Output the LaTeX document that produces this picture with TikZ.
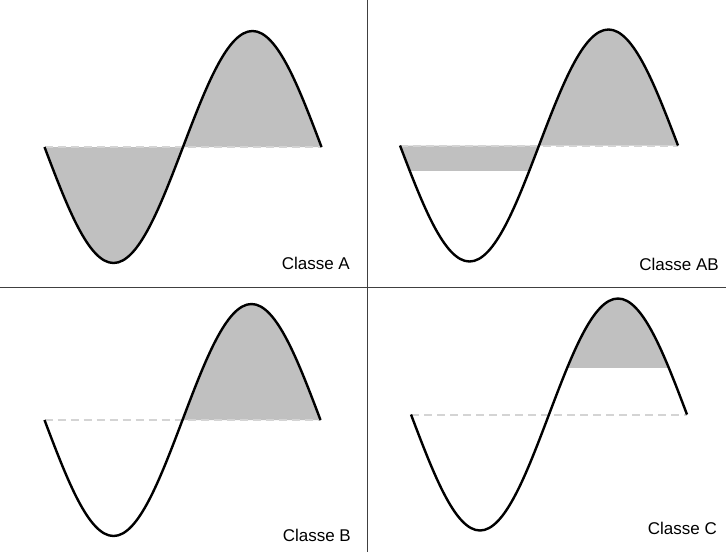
\documentclass[tikz,border=0pt]{standalone}
\usepackage{fontspec}
\setmainfont{Liberation Sans}
\definecolor{fillgray}{RGB}{192,192,192}
\definecolor{dashgray}{RGB}{212,212,212}
\definecolor{divgray}{RGB}{64,64,64}
\begin{document}
\begin{tikzpicture}[x=1pt,y=-1pt,
  wave/.style={line width=2.4pt,black,line join=round},
  shade/.style={fill=fillgray,draw=none},
  baseln/.style={dashgray,line width=2pt,dash pattern=on 8pt off 5pt},
  divider/.style={divgray,line width=1pt},
  lbl/.style={anchor=base east,inner sep=0pt,font=\fontsize{17}{20}\selectfont}]
\useasboundingbox (0,0) rectangle (726,552);
\fill[white] (0,0) rectangle (726,552);
% dividers
\coordinate (vt) at (367,0); \coordinate (vb) at (367,552);
\coordinate (hl) at (0,287); \coordinate (hr) at (726,287);
\draw[divider] (vt) -- (vb);
\draw[divider] (hl) -- (hr);

% ---- Classe A ----
\coordinate (a0) at (44.5,147); \coordinate (a1) at (113.5,263);
\coordinate (a2) at (183,147); \coordinate (a3) at (252.5,31);
\coordinate (a4) at (321.5,147);
\fill[shade] (a0) sin (a1) cos (a2) sin (a3) cos (a4) -- cycle;
\draw[baseln] (a0) -- (a4);
\draw[wave] (a0) sin (a1) cos (a2) sin (a3) cos (a4);
\node[lbl] (la) at (350,269) {Classe A};

% ---- Classe AB ----
\coordinate (b0) at (400,145.5); \coordinate (b1) at (469.5,261.5);
\coordinate (b2) at (539,145.5); \coordinate (b3) at (608.5,29.5);
\coordinate (b4) at (678,145.5);
\begin{scope}
\clip (390,0) rectangle (700,170);
\fill[shade] (b0) sin (b1) cos (b2) sin (b3) cos (b4) -- cycle;
\end{scope}
\draw[baseln] (b0) -- (b4);
\draw[wave] (b0) sin (b1) cos (b2) sin (b3) cos (b4);
\node[lbl] (lab) at (719,270) {Classe AB};

% ---- Classe B ----
\coordinate (c0) at (44.5,420); \coordinate (c1) at (113.5,536);
\coordinate (c2) at (182.5,420); \coordinate (c3) at (251.5,304);
\coordinate (c4) at (320.5,420);
\fill[shade] (c2) sin (c3) cos (c4) -- cycle;
\draw[baseln] (c0) -- (c4);
\draw[wave] (c0) sin (c1) cos (c2) sin (c3) cos (c4);
\node[lbl] (lb) at (351,541) {Classe B};

% ---- Classe C ----
\coordinate (d0) at (411,414.5); \coordinate (d1) at (480,530.5);
\coordinate (d2) at (549,414.5); \coordinate (d3) at (618,298.5);
\coordinate (d4) at (687,414.5);
\begin{scope}
\clip (400,280) rectangle (700,367);
\fill[shade] (d2) sin (d3) cos (d4) -- cycle;
\end{scope}
\draw[baseln] (d0) -- (d4);
\draw[wave] (d0) sin (d1) cos (d2) sin (d3) cos (d4);
\node[lbl] (lc) at (717,534) {Classe C};
\end{tikzpicture}
\end{document}
